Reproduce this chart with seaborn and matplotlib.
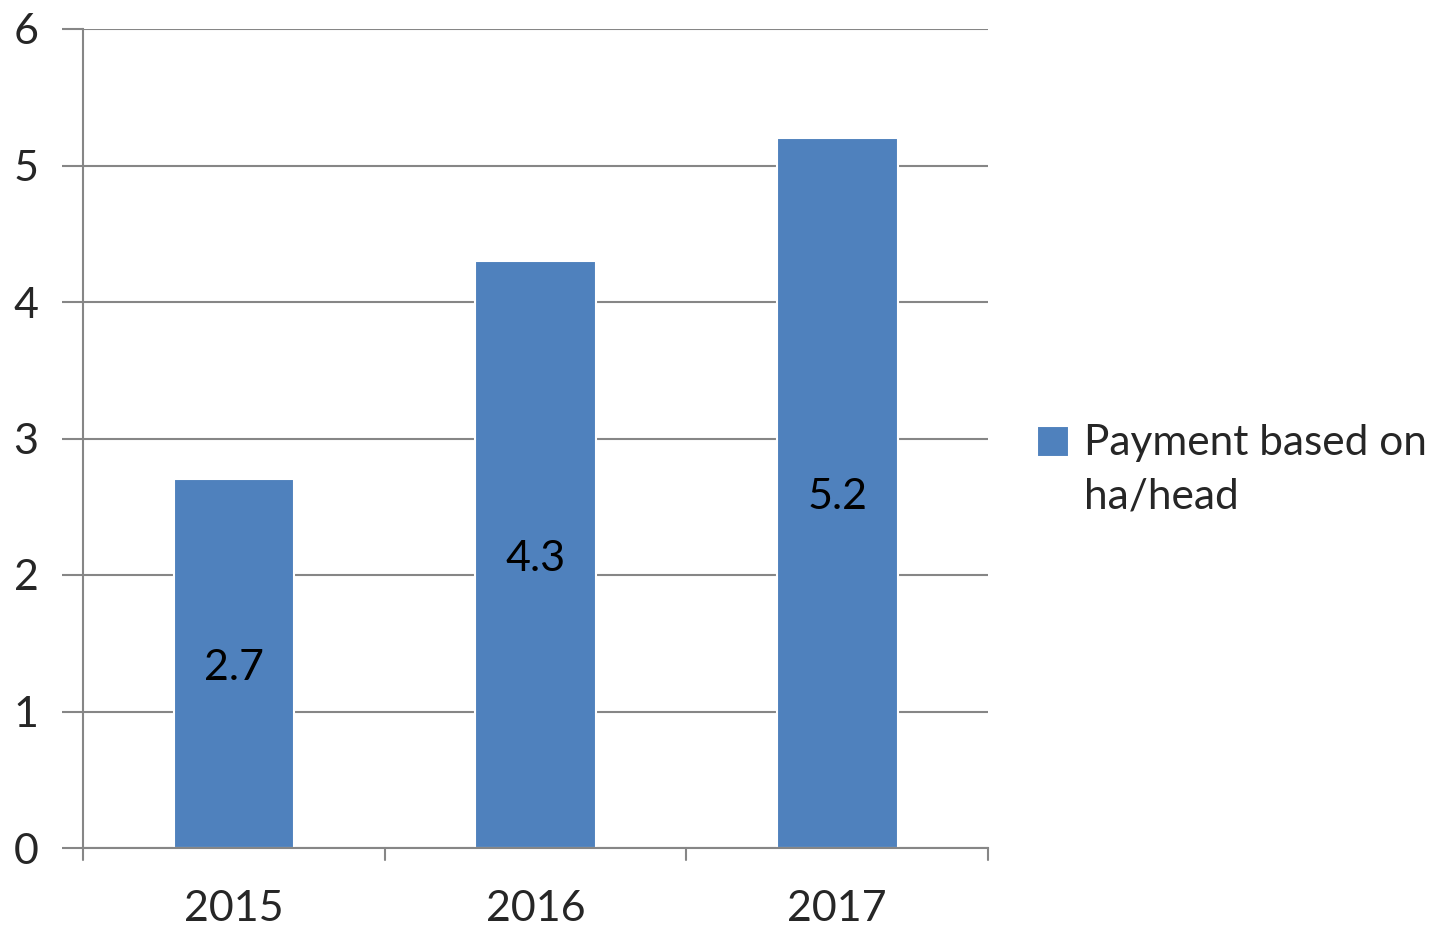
import matplotlib
matplotlib.use("Agg")
import matplotlib.pyplot as plt
import seaborn as sns
import pandas as pd

years = ["2015", "2016", "2017"]
values = [2.7, 4.3, 5.2]
series_name = "Payment based on\nha/head"
yticks = [0, 1, 2, 3, 4, 5, 6]

sns.set_theme(style="white")
plt.rcParams['font.family'] = ['Lato', 'DejaVu Sans']

df = pd.DataFrame({"year": years, "value": values, "series": series_name})

fig = plt.figure(figsize=(14.41, 9.27), dpi=100)
ax = fig.add_axes([83/1441, 1 - 848/927, (988-83)/1441, (848-29)/927])

sns.barplot(data=df, x="year", y="value", hue="series", palette=["#4F81BD"],
            width=0.4, ax=ax, saturation=1, edgecolor="white", linewidth=1.5, legend=True)

ax.set_ylim(0, 6)
ax.set_xlim(-0.5, 2.5)
ax.set_yticks(yticks)
ax.set_yticklabels([str(t) for t in yticks], fontsize=31)
ax.tick_params(axis='x', labelsize=31, length=0, pad=30)
ax.tick_params(axis='y', length=15, width=1.5, color="#868686", pad=17, left=True)
ax.yaxis.grid(True, color="#868686", linewidth=1.5)
ax.set_axisbelow(True)
for s in ["top", "right"]:
    ax.spines[s].set_visible(False)
for s in ["left", "bottom"]:
    ax.spines[s].set_color("#868686")
    ax.spines[s].set_linewidth(1.5)
ax.set_xlabel("")
ax.set_ylabel("")

# x category separators (tick marks below axis)
for xb in [-0.5, 0.5, 1.5, 2.5]:
    ax.plot([xb, xb], [0, -0.09], color="#868686", lw=1.5, clip_on=False)

for cont in ax.containers:
    for rect, v in zip(cont, values):
        ax.text(rect.get_x() + rect.get_width()/2, v/2 - 0.03, f"{v}", ha="center", va="center",
                fontsize=31, color="black")

leg = ax.legend(loc="center left", bbox_to_anchor=(1037/1441, 1 - 470/927), bbox_transform=fig.transFigure,
                frameon=False, handlelength=0.75, handleheight=0.75, handletextpad=0.35,
                borderaxespad=0, borderpad=0, prop={'size': 30.5})
for t in leg.get_texts():
    t.set_linespacing(1.5)
h = leg.legend_handles[0]
h.set_y(h.get_y() + 21)

fig.savefig("out.png", dpi=100)
